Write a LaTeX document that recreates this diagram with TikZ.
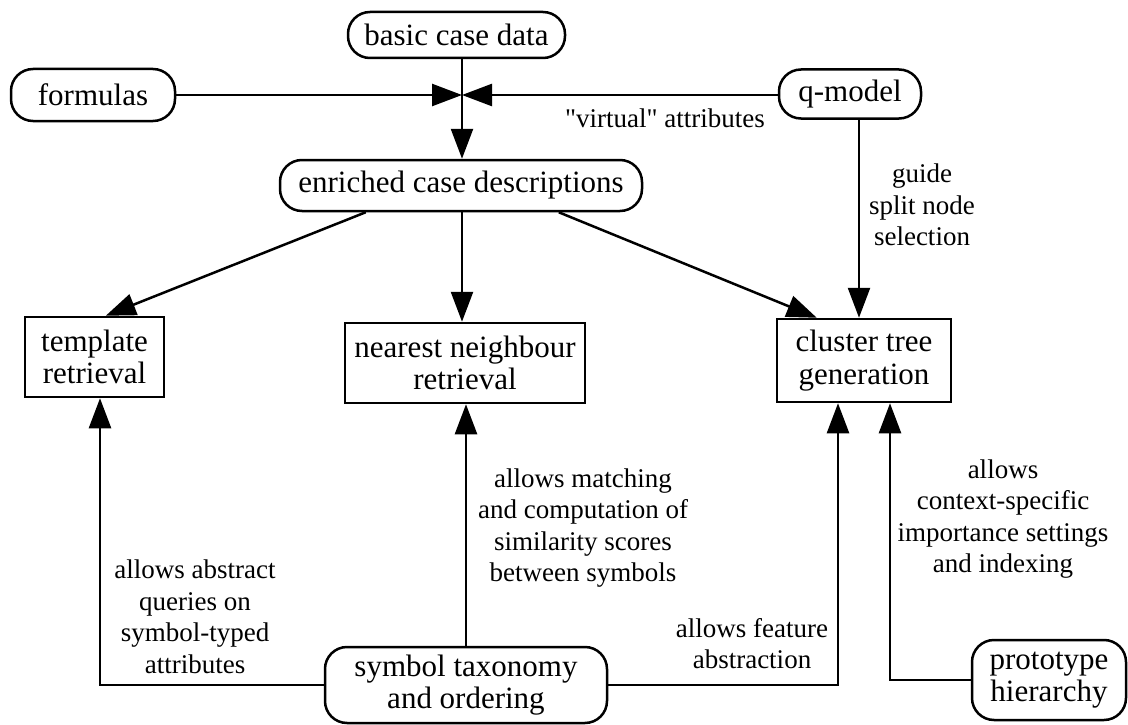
\documentclass[tikz,border=0pt]{standalone}
\usepackage{fontspec}
\setmainfont{Liberation Serif}[Ligatures=TeXOff]
\usetikzlibrary{arrows.meta}
\begin{document}
\begin{tikzpicture}[x=1pt,y=-1pt,
  line width=2.5pt,
  rbox/.style={draw,rounded corners=22pt,inner sep=0pt,align=center,
    font=\fontsize{31}{32.5}\selectfont},
  sbox/.style={draw,rectangle,inner sep=0pt,align=center,
    font=\fontsize{31}{32.5}\selectfont},
  lab/.style={inner sep=0pt,align=center,font=\fontsize{27}{31.5}\selectfont},
  arr/.style={-{Triangle[length=30pt,width=22pt]}}]
\useasboundingbox (0,0) rectangle (1128,725);

% sources and data nodes
\node[rbox,minimum width=217pt,minimum height=46pt] (basic) at (456.5,35) {basic case data};
\node[rbox,minimum width=164pt,minimum height=52pt] (formulas) at (93,95) {formulas};
\node[rbox,minimum width=142pt,minimum height=49pt] (qmodel) at (850,94) {q-model};
\node[rbox,minimum width=362pt,minimum height=51pt] (enriched) at (461,185.5) {enriched case descriptions};

% processing steps
\node[sbox,minimum width=139pt,minimum height=80pt] (template) at (94.5,357) {template\\retrieval};
\node[sbox,minimum width=240pt,minimum height=80pt] (nn) at (465,363) {nearest neighbour\\retrieval};
\node[sbox,minimum width=174pt,minimum height=83pt] (cluster) at (864,360.5) {cluster tree\\generation};

% background knowledge
\node[rbox,minimum width=282pt,minimum height=76pt] (symbol) at (466,685) {symbol taxonomy\\and ordering};
\node[rbox,minimum width=154pt,minimum height=80pt] (proto) at (1049,680) {prototype\\hierarchy};

% merge point of the inputs
\coordinate (J) at (462,95);

\draw[arr] (formulas.east) -- (J);
\draw[arr] (qmodel.west |- J) -- (J);
\draw (basic.south -| J) -- (J);
\draw[arr] (J) -- (enriched.north -| J);

% enriched descriptions feed the three steps
\draw[arr] ([xshift=87pt]enriched.south west) -- ([xshift=82pt]template.north west);
\draw[arr] (enriched.south -| J) -- (nn.north -| J);
\draw[arr] ([xshift=280pt]enriched.south west) -- ([xshift=41pt]cluster.north west);
\draw[arr] ([xshift=9pt]qmodel.south) -- ([xshift=9pt]qmodel.south |- cluster.north);

% knowledge supporting the steps
\draw[arr] (symbol.west) -| ([xshift=5.5pt]template.south);
\draw[arr] (symbol.north) -- (symbol.north |- nn.south);
\draw[arr] (symbol.east) -| ([xshift=-26pt]cluster.south);
\draw[arr] (proto.west) -| ([xshift=26pt]cluster.south);

% connector labels
\node[lab] (lvirt) at (665,118) {"virtual" attributes};
\node[lab] (lguide) at (922,205) {guide\\split node\\selection};
\node[lab] (lmatch) at (583,528) {allows matching\\and computation of\\similarity scores\\between symbols};
\node[lab] (labstr) at (195,617) {allows abstract\\queries on\\symbol-typed\\attributes};
\node[lab] (lfeat) at (752,643.5) {allows feature\\abstraction};
\node[lab] (lctx) at (1003,519) {allows\\context-specific\\importance settings\\and indexing};
\end{tikzpicture}
\end{document}
